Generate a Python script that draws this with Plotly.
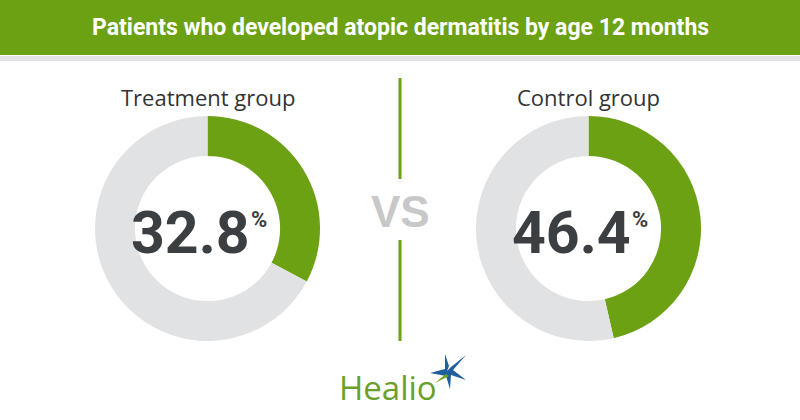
import plotly.graph_objects as go

# ---- data ----
groups = ["Treatment group", "Control group"]
values = [32.8, 46.4]
title_text = "Patients who developed atopic dermatitis by age 12 months"
vs_text = "VS"
brand = "Healio"

W, H = 800, 420
GREEN = "#6ca114"
GRAY = "#e1e2e4"
DARK = "#3b3f42"
NUMFONT = "Roboto, sans-serif"

def px(x):
    return x / W

def py(y):
    return 1 - y / H

centers = [(207.5, 228.5), (588.5, 228.5)]
R = 112.5

fig = go.Figure()
for (cx, cy), v, g in zip(centers, values, groups):
    fig.add_trace(go.Pie(
        values=[v, 100 - v],
        labels=["Developed", "Did not develop"],
        hole=0.645,
        sort=False,
        direction="clockwise",
        rotation=0,
        marker=dict(colors=[GREEN, GRAY], line=dict(width=0)),
        textinfo="none",
        hoverinfo="skip",
        showlegend=False,
        domain=dict(x=[px(cx - R), px(cx + R)], y=[py(cy + R), py(cy - R)]),
    ))

shapes = []
# title bar
shapes.append(dict(type="rect", xref="paper", yref="paper", x0=0, x1=1, y0=py(55), y1=1,
                   fillcolor=GREEN, line=dict(width=0), layer="below"))
shapes.append(dict(type="rect", xref="paper", yref="paper", x0=0, x1=1, y0=py(61), y1=py(56),
                   fillcolor="#e3e3e5", line=dict(width=0), layer="below"))
# divider lines
for y0, y1 in [(78, 179), (240, 341)]:
    shapes.append(dict(type="line", xref="paper", yref="paper", x0=px(400), x1=px(400),
                       y0=py(y0), y1=py(y1), line=dict(color=GREEN, width=3)))

# Healio star (decorative)
def path(pts):
    return "M " + " L ".join(f"{px(x)},{py(y)}" for x, y in pts) + " Z"

scx, scy = 447, 371
star_blue = [(scx, scy), (scx + 4, scy - 4), (scx + 19, scy - 16), (scx + 6, scy - 1),
             (scx + 19, scy + 9), (scx + 4, scy + 4), (scx + 3, scy + 18), (scx - 1, scy + 5),
             (scx - 17, scy + 2), (scx - 2, scy - 2), (scx - 2, scy - 17), (scx + 2, scy - 5)]
shapes.append(dict(type="path", xref="paper", yref="paper", path=path(star_blue),
                   fillcolor="#1f5f9f", line=dict(width=0)))
star_green = [(scx - 1, scy + 3), (scx - 12, scy + 12), (scx + 2, scy + 5)]
shapes.append(dict(type="path", xref="paper", yref="paper", path=path(star_green),
                   fillcolor=GREEN, line=dict(width=0)))

annotations = []
annotations.append(dict(x=0.5, y=py(28), xref="paper", yref="paper", text=title_text,
                        showarrow=False, xanchor="center", yanchor="middle",
                        font=dict(family=NUMFONT, size=23, color="white", weight="bold")))
for (cx, cy), v, g in zip(centers, values, groups):
    annotations.append(dict(x=px(cx), y=py(97), xref="paper", yref="paper", text=g,
                            showarrow=False, xanchor="center", yanchor="middle",
                            font=dict(family="Open Sans, sans-serif", size=22, color="#333333")))
    annotations.append(dict(x=px(cx + 44), y=py(232), xref="paper", yref="paper", text=f"{v:.1f}",
                            showarrow=False, xanchor="right", yanchor="middle",
                            font=dict(family=NUMFONT, size=59, color=DARK, weight="bold")))
    annotations.append(dict(x=px(cx + 41), y=py(219), xref="paper", yref="paper", text="%",
                            showarrow=False, xanchor="left", yanchor="middle",
                            font=dict(family=NUMFONT, size=22, color=DARK, weight="bold")))
annotations.append(dict(x=px(400), y=py(211), xref="paper", yref="paper", text=vs_text,
                        showarrow=False, xanchor="center", yanchor="middle",
                        font=dict(family="Liberation Sans, Arial, sans-serif", size=44,
                                  color="#c8c8c8", weight="bold")))
annotations.append(dict(x=px(337), y=py(387), xref="paper", yref="paper", text=brand,
                        showarrow=False, xanchor="left", yanchor="middle",
                        font=dict(family="Open Sans, sans-serif", size=33, color="#6b9f2c")))

fig.update_layout(
    width=W, height=H,
    margin=dict(l=0, r=0, t=0, b=0),
    paper_bgcolor="white", plot_bgcolor="white",
    shapes=shapes, annotations=annotations,
)
fig.write_html("out.html")
